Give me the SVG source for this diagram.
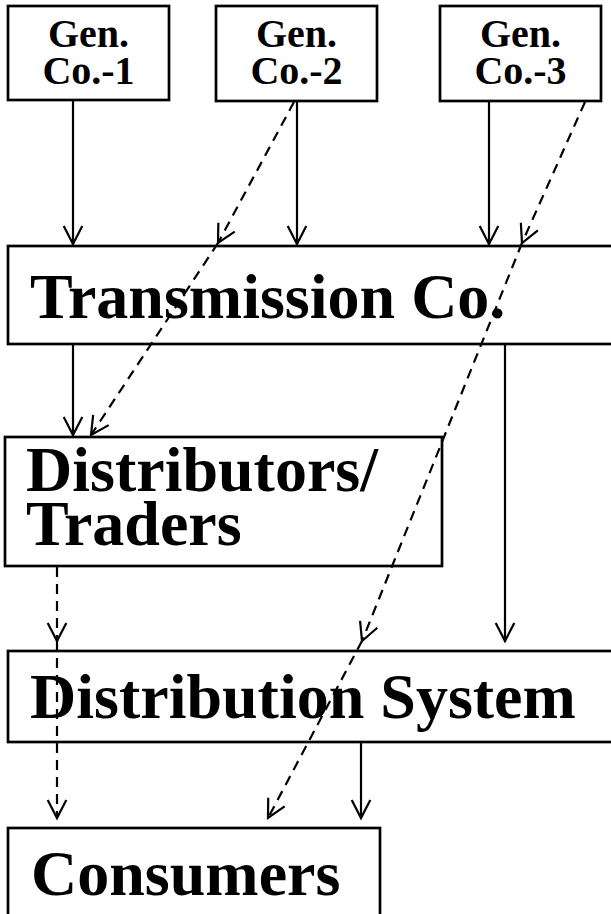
<svg xmlns="http://www.w3.org/2000/svg" width="611" height="914" viewBox="0 0 611 914">
<style>
.box{fill:#fff;stroke:#000;stroke-width:2.7}
.t{font-family:"Liberation Serif","Times New Roman",serif;font-weight:bold;fill:#000}
.s{font-size:40px;text-anchor:middle}
.b{font-size:64px}
.c{stroke:#000;stroke-width:2.2;fill:none}
.d{stroke-dasharray:10 7}
</style>
<defs>
<marker id="ah" markerUnits="userSpaceOnUse" viewBox="-22 -12 24 24" refX="0" refY="0" markerWidth="24" markerHeight="24" orient="auto" overflow="visible">
<path d="M-18,-9.3 L0,0 L-18,9.3" fill="none" stroke="#000" stroke-width="2.2"/>
</marker>
</defs>
<rect width="611" height="914" fill="#fff"/>
<g id="gen1"><rect class="box" x="8" y="6" width="161" height="94"/><text class="t s" x="88.5" y="47">Gen.</text><text class="t s" x="88.5" y="84">Co.-1</text></g>
<g id="gen2"><rect class="box" x="216" y="6" width="161" height="95"/><text class="t s" x="296.5" y="47">Gen.</text><text class="t s" x="296.5" y="84">Co.-2</text></g>
<g id="gen3"><rect class="box" x="440" y="6" width="161" height="95"/><text class="t s" x="520.5" y="47">Gen.</text><text class="t s" x="520.5" y="84">Co.-3</text></g>
<g id="trans"><rect class="box" x="8" y="246" width="620" height="98"/><text class="t b" x="30" y="318">Transmission Co.</text></g>
<g id="distributors"><rect class="box" x="5" y="437" width="437" height="129"/><text class="t b" x="26" y="491">Distributors/</text><text class="t b" x="26" y="545">Traders</text></g>
<g id="distsys"><rect class="box" x="8" y="651" width="620" height="91"/><text class="t b" x="30" y="718">Distribution System</text></g>
<g id="consumers"><rect class="box" x="8" y="828" width="372" height="100"/><text class="t b" x="31" y="895">Consumers</text></g>
<g id="connectors">
<line class="c" x1="73" y1="101" x2="73" y2="244" marker-end="url(#ah)"/>
<line class="c" x1="297" y1="102" x2="297" y2="244" marker-end="url(#ah)"/>
<line class="c" x1="489" y1="102" x2="489" y2="244" marker-end="url(#ah)"/>
<line class="c d" x1="294" y1="102" x2="218" y2="243" marker-end="url(#ah)"/>
<line class="c d" x1="585" y1="102" x2="522" y2="243" marker-end="url(#ah)"/>
<line class="c" x1="73" y1="345" x2="73" y2="435" marker-end="url(#ah)"/>
<line class="c d" x1="218" y1="243" x2="91" y2="435" marker-end="url(#ah)"/>
<line class="c" x1="505" y1="345" x2="505" y2="641" marker-end="url(#ah)"/>
<line class="c d" x1="522" y1="243" x2="362" y2="641" marker-end="url(#ah)"/>
<line class="c d" x1="57" y1="567" x2="57" y2="641" marker-end="url(#ah)"/>
<line class="c d" x1="57" y1="641" x2="57" y2="818" marker-end="url(#ah)"/>
<line class="c d" x1="362" y1="641" x2="268" y2="818" marker-end="url(#ah)"/>
<line class="c" x1="361" y1="743" x2="361" y2="818" marker-end="url(#ah)"/>
</g>
</svg>
